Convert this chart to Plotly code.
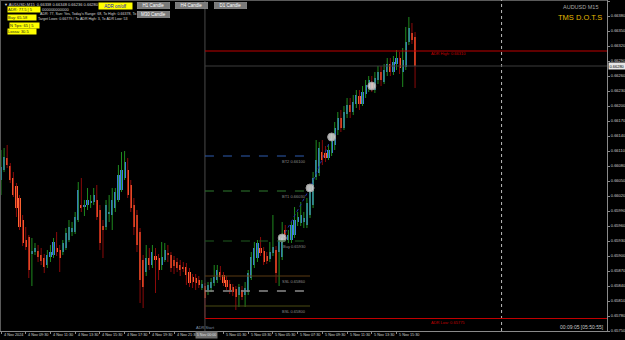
import pandas as pd
import plotly.graph_objects as go

# ---------------- data ----------------
SYMBOL = "AUDUSD,M15"
START_TIME = "2024-11-04 07:30"
ADR_START_TIME = "2024-11-05 00:00"
LEVELS_END_TIME = "2024-11-05 08:30"
NEXT_DAY_TIME = "2024-11-06 00:00"

OPEN = [
    0.66052, 0.66072, 0.66096, 0.66080, 0.66056, 0.66040, 0.66016, 0.65972, 0.65932, 0.65938,
    0.65904, 0.65908, 0.65910, 0.65902, 0.65896, 0.65882, 0.65898, 0.65902, 0.65916, 0.65912,
    0.65908, 0.65916, 0.65932, 0.65948, 0.65948, 0.65972, 0.66002, 0.65998, 0.66002, 0.66006,
    0.66008, 0.66012, 0.65992, 0.65960, 0.65958, 0.65984, 0.65982, 0.65996, 0.66012, 0.66032,
    0.66056, 0.66072, 0.66042, 0.66002, 0.65982, 0.65948, 0.65892, 0.65868, 0.65896, 0.65882,
    0.65900, 0.65896, 0.65882, 0.65892, 0.65906, 0.65902, 0.65892, 0.65888, 0.65882, 0.65878,
    0.65878, 0.65868, 0.65858, 0.65856, 0.65852, 0.65836, 0.65840, 0.65832, 0.65836, 0.65846,
    0.65852, 0.65868, 0.65862, 0.65852, 0.65844, 0.65838, 0.65834, 0.65822, 0.65832, 0.65822,
    0.65828, 0.65856, 0.65882, 0.65896, 0.65916, 0.65910, 0.65900, 0.65894, 0.65906, 0.65912,
    0.65908, 0.65898, 0.65952, 0.65932, 0.65932, 0.65942, 0.65968, 0.65966, 0.65968, 0.65962,
    0.65982, 0.66002, 0.66058, 0.66066, 0.66108, 0.66106, 0.66096, 0.66106, 0.66122, 0.66152,
    0.66176, 0.66156, 0.66184, 0.66202, 0.66188, 0.66204, 0.66220, 0.66204, 0.66224, 0.66236,
    0.66248, 0.66232, 0.66252, 0.66268, 0.66248, 0.66268, 0.66284, 0.66268, 0.66284, 0.66296,
    0.66268, 0.66278, 0.66328, 0.66346, 0.66338,
]
HIGH = [
    0.66112, 0.66116, 0.66122, 0.66086, 0.66068, 0.66046, 0.66022, 0.65982, 0.65958, 0.65942,
    0.65936, 0.65926, 0.65922, 0.65916, 0.65904, 0.65912, 0.65922, 0.65936, 0.65948, 0.65922,
    0.65932, 0.65956, 0.65972, 0.65968, 0.65988, 0.66048, 0.66056, 0.66012, 0.66036, 0.66022,
    0.66036, 0.66042, 0.66002, 0.65972, 0.66012, 0.66022, 0.66036, 0.66036, 0.66082, 0.66108,
    0.66110, 0.66096, 0.66052, 0.66016, 0.65992, 0.65956, 0.65902, 0.65922, 0.65916, 0.65922,
    0.65916, 0.65904, 0.65928, 0.65926, 0.65922, 0.65908, 0.65900, 0.65896, 0.65892, 0.65888,
    0.65886, 0.65876, 0.65864, 0.65864, 0.65860, 0.65852, 0.65846, 0.65848, 0.65856, 0.65882,
    0.65882, 0.65880, 0.65868, 0.65860, 0.65852, 0.65844, 0.65840, 0.65844, 0.65840, 0.65848,
    0.65872, 0.65908, 0.65928, 0.65932, 0.65938, 0.65918, 0.65908, 0.65928, 0.65982, 0.65920,
    0.65942, 0.65968, 0.65962, 0.65952, 0.65968, 0.65998, 0.65988, 0.66008, 0.65988, 0.66016,
    0.66040, 0.66068, 0.66132, 0.66128, 0.66132, 0.66120, 0.66124, 0.66144, 0.66168, 0.66188,
    0.66192, 0.66200, 0.66216, 0.66216, 0.66222, 0.66232, 0.66232, 0.66240, 0.66252, 0.66260,
    0.66260, 0.66268, 0.66280, 0.66280, 0.66284, 0.66296, 0.66296, 0.66300, 0.66312, 0.66308,
    0.66316, 0.66358, 0.66378, 0.66366, 0.66348,
]
LOW = [
    0.66022, 0.66068, 0.66076, 0.66046, 0.66018, 0.65978, 0.65952, 0.65920, 0.65912, 0.65856,
    0.65840, 0.65902, 0.65888, 0.65882, 0.65866, 0.65876, 0.65888, 0.65896, 0.65900, 0.65868,
    0.65902, 0.65912, 0.65928, 0.65940, 0.65944, 0.65968, 0.65988, 0.65980, 0.65992, 0.65996,
    0.66002, 0.65972, 0.65912, 0.65896, 0.65952, 0.65968, 0.65952, 0.65988, 0.66008, 0.66028,
    0.66052, 0.66016, 0.65988, 0.65942, 0.65908, 0.65806, 0.65796, 0.65860, 0.65872, 0.65876,
    0.65826, 0.65852, 0.65872, 0.65888, 0.65888, 0.65868, 0.65864, 0.65868, 0.65860, 0.65868,
    0.65842, 0.65838, 0.65836, 0.65832, 0.65836, 0.65832, 0.65776, 0.65822, 0.65828, 0.65840,
    0.65846, 0.65852, 0.65840, 0.65832, 0.65824, 0.65820, 0.65792, 0.65798, 0.65812, 0.65798,
    0.65822, 0.65852, 0.65876, 0.65888, 0.65900, 0.65882, 0.65884, 0.65888, 0.65900, 0.65846,
    0.65840, 0.65892, 0.65932, 0.65926, 0.65926, 0.65936, 0.65960, 0.65960, 0.65956, 0.65956,
    0.65976, 0.65996, 0.66052, 0.66060, 0.66082, 0.66088, 0.66092, 0.66100, 0.66112, 0.66142,
    0.66148, 0.66152, 0.66176, 0.66176, 0.66182, 0.66196, 0.66192, 0.66200, 0.66216, 0.66228,
    0.66228, 0.66226, 0.66244, 0.66240, 0.66244, 0.66260, 0.66260, 0.66262, 0.66272, 0.66264,
    0.66238, 0.66272, 0.66322, 0.66324, 0.66236,
]
CLOSE = [
    0.66078, 0.66098, 0.66082, 0.66052, 0.66022, 0.65996, 0.65958, 0.65926, 0.65918, 0.65872,
    0.65910, 0.65916, 0.65898, 0.65890, 0.65878, 0.65902, 0.65908, 0.65928, 0.65908, 0.65896,
    0.65926, 0.65946, 0.65958, 0.65956, 0.65978, 0.66032, 0.65996, 0.66002, 0.66012, 0.66010,
    0.66022, 0.65978, 0.65926, 0.65952, 0.66002, 0.65988, 0.66012, 0.66028, 0.66062, 0.66072,
    0.66088, 0.66022, 0.65996, 0.65958, 0.65922, 0.65852, 0.65838, 0.65896, 0.65882, 0.65908,
    0.65892, 0.65872, 0.65898, 0.65912, 0.65902, 0.65876, 0.65880, 0.65876, 0.65872, 0.65874,
    0.65862, 0.65846, 0.65848, 0.65846, 0.65842, 0.65844, 0.65816, 0.65842, 0.65848, 0.65858,
    0.65872, 0.65858, 0.65846, 0.65838, 0.65832, 0.65828, 0.65818, 0.65838, 0.65818, 0.65836,
    0.65866, 0.65898, 0.65916, 0.65926, 0.65906, 0.65888, 0.65890, 0.65908, 0.65918, 0.65866,
    0.65938, 0.65936, 0.65938, 0.65942, 0.65962, 0.65972, 0.65978, 0.65982, 0.65976, 0.66006,
    0.66032, 0.66056, 0.66092, 0.66116, 0.66092, 0.66096, 0.66112, 0.66132, 0.66156, 0.66176,
    0.66156, 0.66188, 0.66202, 0.66188, 0.66208, 0.66222, 0.66204, 0.66228, 0.66242, 0.66252,
    0.66236, 0.66256, 0.66268, 0.66252, 0.66272, 0.66284, 0.66268, 0.66288, 0.66296, 0.66276,
    0.66292, 0.66328, 0.66356, 0.66332, 0.66280,
]

ADR_HIGH = 0.66310
ADR_LOW = 0.65775
LEVEL_NAMES = ["BT2", "BT1", "Buy", "SSL", "", "BSL"]
LEVEL_PRICES = [0.66100, 0.66030, 0.65930, 0.65860, 0.65830, 0.65800]

SIGNAL_TIMES = ["2024-11-05 06:15", "2024-11-05 08:30", "2024-11-05 10:15", "2024-11-05 13:30"]
SIGNAL_PRICES = [0.65936, 0.66036, 0.66138, 0.66240]

PRICE_TICKS = [0.66410, 0.66380, 0.66350, 0.66320, 0.66290, 0.66260, 0.66230, 0.66200,
               0.66170, 0.66140, 0.66110, 0.66080, 0.66050, 0.66020, 0.65990, 0.65960,
               0.65930, 0.65900, 0.65870, 0.65840, 0.65810, 0.65780, 0.65750]

# ---------------- styles ----------------
BULL_BODY = "#3f7be6"
BEAR_BODY = "#ff6633"
BULL_WICK = "#1f8a1f"
BEAR_WICK = "#8b0a0a"
LEVEL_COLORS = ["#2f5db0", "#2f7a2f", "#1f5a1f", "#5a3a12", "#8a8a8a", "#4a4a12"]
LEVEL_DASH = ["dash", "dash", "dash", "solid", "dash", "solid"]
LEVEL_WIDTH = [1, 1, 1, 1.2, 1.6, 1.2]
FONT = "Liberation Sans"
PW, PH = 607, 331          # plot area in pixels
X_RANGE = [-0.324, 196.12]
Y_RANGE = [0.65750, 0.66412]

n = len(CLOSE)
t0 = pd.Timestamp(START_TIME)
times = pd.date_range(START_TIME, periods=n, freq="15min")


def bar_index(ts):
    return (pd.Timestamp(ts) - t0) / pd.Timedelta("15min")


idx = list(range(n))
bull = [c >= o for o, c in zip(OPEN, CLOSE)]
adr_idx = bar_index(ADR_START_TIME)
lev_end = bar_index(LEVELS_END_TIME)
next_day = bar_index(NEXT_DAY_TIME)
sig_idx = [bar_index(t) for t in SIGNAL_TIMES]

fig = go.Figure()

# wicks
for is_bull, col in ((True, BULL_WICK), (False, BEAR_WICK)):
    xs, ys = [], []
    for i in idx:
        if bull[i] == is_bull:
            xs += [i, i, None]
            ys += [LOW[i], HIGH[i], None]
    fig.add_trace(go.Scatter(x=xs, y=ys, mode="lines", line=dict(color=col, width=1),
                             hoverinfo="skip", showlegend=False))

# bodies
MIN_BODY = 0.00002
base = [min(o, c) for o, c in zip(OPEN, CLOSE)]
height = [max(abs(c - o), MIN_BODY) for o, c in zip(OPEN, CLOSE)]
colors = [BULL_BODY if b else BEAR_BODY for b in bull]
fig.add_trace(go.Bar(x=idx, y=height, base=base, width=0.7,
                     marker=dict(color=colors, line=dict(width=0)), showlegend=False))

# trend dotted line through first signals
fig.add_trace(go.Scatter(x=sig_idx[:3], y=SIGNAL_PRICES[:3], mode="lines",
                         line=dict(color="#2233aa", width=1, dash="dot"), showlegend=False))
# signal circles
fig.add_trace(go.Scatter(x=sig_idx, y=SIGNAL_PRICES, mode="markers",
                         marker=dict(size=8, color="rgba(215,215,215,0.85)",
                                     line=dict(color="#9a9a9a", width=1)),
                         showlegend=False))

shapes = []
# borders
shapes.append(dict(type="line", xref="paper", yref="paper", x0=0, x1=1, y0=1, y1=1,
                   line=dict(color="#5a5a5a", width=2)))
shapes.append(dict(type="line", xref="paper", yref="paper", x0=0, x1=0, y0=0, y1=1,
                   line=dict(color="#5a5a5a", width=2)))
# ADR start vertical and next day separator
shapes.append(dict(type="line", xref="x", yref="paper", x0=adr_idx, x1=adr_idx, y0=0, y1=1,
                   line=dict(color="#4a4a4a", width=1)))
shapes.append(dict(type="line", xref="x", yref="paper", x0=next_day, x1=next_day, y0=0, y1=1,
                   line=dict(color="#bbbbbb", width=1, dash="dot")))
# ADR high / low
for p in (ADR_HIGH, ADR_LOW):
    shapes.append(dict(type="line", xref="x", yref="y", x0=adr_idx, x1=X_RANGE[1], y0=p, y1=p,
                       line=dict(color="#c00000", width=1.2)))
# current price line
shapes.append(dict(type="line", xref="x", yref="y", x0=adr_idx, x1=X_RANGE[1],
                   y0=CLOSE[-1], y1=CLOSE[-1], line=dict(color="#3c3c3c", width=1)))
# trade levels
for p, c, d, w in zip(LEVEL_PRICES, LEVEL_COLORS, LEVEL_DASH, LEVEL_WIDTH):
    shapes.append(dict(type="line", xref="x", yref="y", x0=adr_idx, x1=lev_end, y0=p, y1=p,
                       line=dict(color=c, width=w, dash=d)))


def px(x):
    return x / PW


def py(y):
    return 1 - y / PH


anns = []


def ann(text, x, y, size=4, color="#d8d8d8", xanchor="left", **kw):
    anns.append(dict(text=text, x=px(x), y=py(y), xref="paper", yref="paper",
                     xanchor=xanchor, yanchor="middle", showarrow=False,
                     font=dict(family=FONT, size=size, color=color), **kw))


# level labels
for name, p in zip(LEVEL_NAMES, LEVEL_PRICES):
    if name:
        anns.append(dict(text=f"{name} {p:.5f}", x=lev_end - 0.5, y=p, xref="x", yref="y",
                         xanchor="right", yanchor="top", showarrow=False, yshift=-0.5,
                         font=dict(family=FONT, size=4, color="#8c8c8c")))
# ADR labels
ann(f"ADR High: {ADR_HIGH:.5f}", 429, 53.5, color="#c00000")
ann(f"ADR Low: {ADR_LOW:.5f}", 429, 322, color="#c00000")
ann("ADR Start", 205, 327, color="#7f93a8", xanchor="center")

# header info
ann(f"▼ {SYMBOL}  {OPEN[-1]:.5f} {HIGH[-1]:.5f} {LOW[-1]:.5f} {CLOSE[-1]:.5f}", 2, 4)
ann("000000000000", 40, 9.5)
ann("ADR: 77, Sun: Yes, Today's Range: 68, To High: 0.66378, To Low", 38, 14, size=3.6)
ann("Target Lows: 0.66779 / To ADR High: 3, To ADR Low: 53", 36, 19, size=3.6)
for txt, x, y, w in (("ADR: 77.5 | 5", 7, 9.5, 32), ("Buy: 65.58", 7, 18, 28),
                     ("N Tips: 65 | 5", 9, 25, 29), ("Lossa: 30.5", 7, 32, 28)):
    ann(txt, x, y, color="#202020", bgcolor="#ffff00", width=w, height=5, align="left",
        borderpad=0)
# buttons
ann("ADR on/off", 115, 5.5, size=4.5, color="#1010c0", xanchor="center", bgcolor="#ffff00",
    width=33, height=6, borderpad=0)
for txt, x, y in (("H1 Candle", 153.5, 5.5), ("H4 Candle", 191, 5.5),
                  ("D1 Candle", 230.5, 5.5), ("M30 Candle", 153.5, 14.5)):
    ann(txt, x, y, size=4.5, color="#ffffff", xanchor="center", bgcolor="#7a7a7a",
        bordercolor="#a0a0a0", borderwidth=0.5, width=32, height=6, borderpad=0)

# top right titles
ann("AUDUSD M15", 600, 7, size=5.5, color="#a8a8a8", xanchor="right")
ann("TMS D.O.T.S", 604, 17.5, size=7.5, color="#e3b800", xanchor="right")
# timer
ann("00:09:05 [05:50:55]", 606, 327, size=5, color="#c8c8c8", xanchor="right")
# current price box on axis
anns.append(dict(text=f"{CLOSE[-1]:.5f}", x=1.0, y=CLOSE[-1], xref="paper", yref="y",
                 xanchor="left", yanchor="middle", showarrow=False, xshift=1,
                 bgcolor="#e6e6e6", borderpad=0, width=16, height=6,
                 font=dict(family=FONT, size=4, color="#000000")))

# time ticks: marks on the axis, labels just to the right of each mark
tick_vals, tick_text = [], []
for i in range(0, n, 8):
    if abs(i - adr_idx) < 5:
        continue
    t = times[i]
    tick_vals.append(i)
    tick_text.append(t.strftime("%-d %b %Y") if i == 0 else t.strftime("%-d %b %H:%M"))
for v, txt in zip(tick_vals, tick_text):
    anns.append(dict(text=txt, x=v, y=py(335), xref="x", yref="paper", xanchor="left",
                     yanchor="middle", xshift=0.5, showarrow=False,
                     font=dict(family=FONT, size=3.8, color="#d0d0d0")))

# ADR start time box on time axis
anns.append(dict(text=times[int(adr_idx)].strftime("%-d %b %H:%M"), x=adr_idx, y=py(335),
                 xref="x", yref="paper", xanchor="center", yanchor="middle", showarrow=False,
                 xshift=1.5, bgcolor="#6e6e6e", borderpad=0, width=21, height=6,
                 font=dict(family=FONT, size=3.6, color="#e0e0e0")))

fig.update_layout(
    width=625, height=340,
    margin=dict(l=0, r=18, t=0, b=9, pad=0),
    paper_bgcolor="#000000", plot_bgcolor="#000000",
    barmode="overlay", bargap=0,
    shapes=shapes, annotations=anns,
    font=dict(family=FONT, size=4, color="#d0d0d0"),
    xaxis=dict(range=X_RANGE, showgrid=False, zeroline=False, automargin=False,
               tickvals=tick_vals, showticklabels=False, ticks="outside", ticklen=2,
               tickcolor="#8a8a8a", showline=True, linecolor="#8a8a8a", linewidth=1),
    yaxis=dict(range=Y_RANGE, side="right", showgrid=False, zeroline=False, automargin=False,
               tickvals=PRICE_TICKS, tickformat=".5f", ticks="outside", ticklen=2,
               tickcolor="#8a8a8a", showline=True, linecolor="#8a8a8a", linewidth=1,
               tickfont=dict(size=4, color="#d0d0d0")),
)

fig.write_html("out.html")
